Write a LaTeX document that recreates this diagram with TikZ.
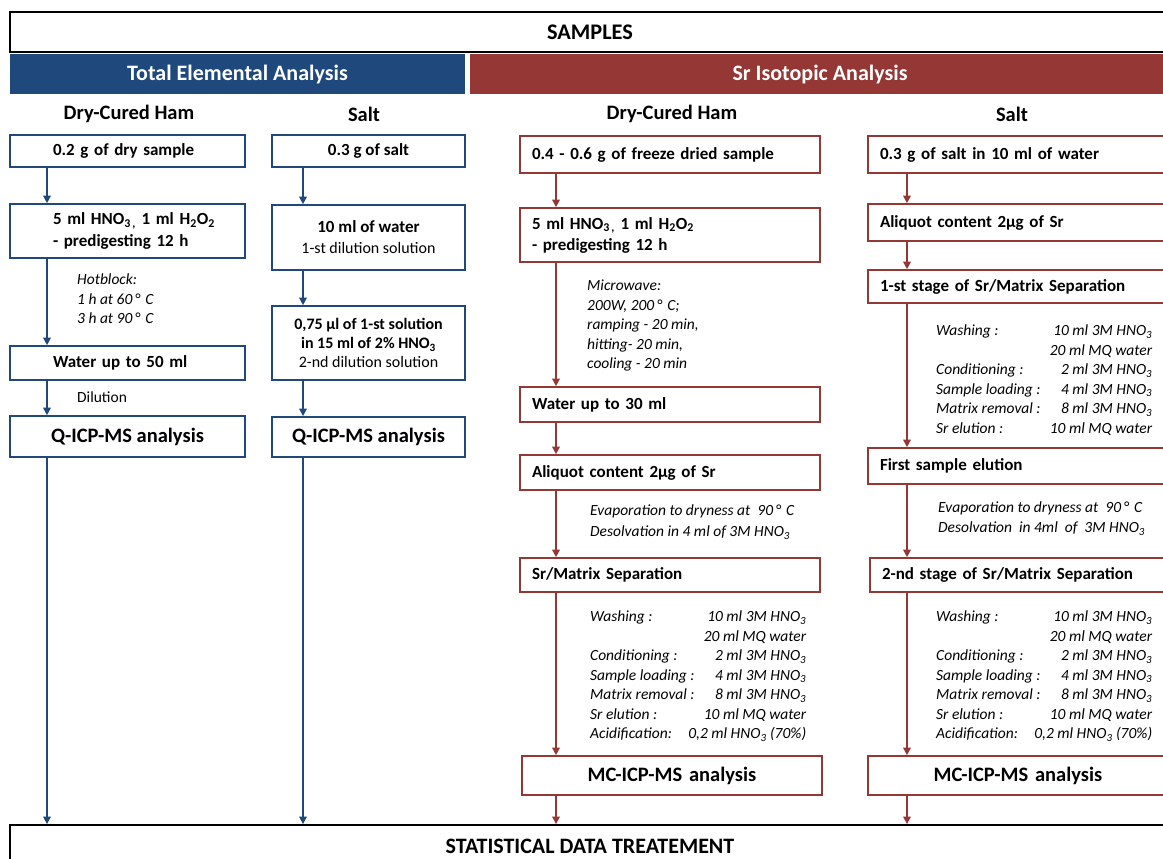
\documentclass[tikz,border=0pt]{standalone}
\usepackage{fontspec}
\setmainfont{Carlito}
\usetikzlibrary{arrows.meta}
\definecolor{tblue}{RGB}{31,73,125}
\definecolor{tred}{RGB}{149,55,53}
\newcommand{\seprows}{Washing : & 10 ml 3M HNO\textsubscript{3}\\
 & 20 ml MQ water\\
Conditioning : & 2 ml 3M HNO\textsubscript{3}\\
Sample loading : & 4 ml 3M HNO\textsubscript{3}\\
Matrix removal : & 8 ml 3M HNO\textsubscript{3}\\
Sr elution : & 10 ml MQ water}
\newcommand{\acidrow}{Acidification: & \makebox[100pt][r]{0,2 ml HNO\textsubscript{3} (70\%)}}
\begin{document}
\begin{tikzpicture}[x=1pt,y=-1pt,
    bbox/.style={draw=tblue,line width=1.6pt,inner sep=0pt,align=center,font=\bfseries\fontsize{17}{21}\selectfont},
    rbox/.style={draw=tred,line width=1.6pt,inner sep=0pt,inner xsep=12pt,text width=276pt,align=left,font=\bfseries\fontsize{17}{21}\selectfont},
    note/.style={inner sep=0pt,anchor=north west,align=left,font=\itshape\fontsize{15.5}{19.5}\selectfont},
    hdr/.style={font=\bfseries\fontsize{20.5}{24}\selectfont},
    bar/.style={text=white,minimum height=40,text height=16pt,text depth=2pt,font=\bfseries\fontsize{22}{26}\selectfont},
    big/.style={font=\bfseries\fontsize{20.5}{24}\selectfont},
    barr/.style={tblue,line width=1.6pt,-{Triangle[length=7.5pt,width=7.5pt]}},
    rarr/.style={tred,line width=1.6pt,-{Triangle[length=7.5pt,width=7.5pt]}}]
    \useasboundingbox(0,0)rectangle(1163,859);
    \node[draw,line width=1.8pt,minimum width=1160,minimum height=40,font=\bfseries\fontsize{22.3}{26}\selectfont](smp)at(590,32){SAMPLES};
    \node[bar,fill=tblue,minimum width=455](tea)at(237.5,74){Total Elemental Analysis};
    \node[bar,fill=tred,minimum width=700](sia)at(820,74){Sr Isotopic Analysis};
    \node[hdr](hd1)at(129,114){Dry-Cured Ham};
    \node[hdr](hd2)at(364,114){Salt};
    \node[hdr](hd3)at(672,114){Dry-Cured Ham};
    \node[hdr](hd4)at(1012,114){Salt};
    \coordinate(c1)at(47,0);
    \coordinate(c2)at(303,0);
    \coordinate(c3)at(556,0);
    \coordinate(c4)at(907,0);
    % total elemental analysis, ham
    \node[bbox,text width=149pt,inner xsep=43pt,align=left,minimum height=32](h1)at(127.5,151){0.2 g of dry sample};
    \node[bbox,text width=149pt,inner xsep=43pt,align=left,minimum height=54,font=\bfseries\fontsize{17}{22}\selectfont](h2)at(127.5,231){\mbox{5 ml HNO\textsubscript{3\,,} 1 ml H\textsubscript{2}O\textsubscript{2}}\\- predigesting 12 h};
    \node[note](n1)at(77,274){Hotblock:\\1 h at 60\,°\,\,C\\3 h at 90\,°\,\,C};
    \node[bbox,text width=149pt,inner xsep=43pt,align=left,minimum height=34](h3)at(127.5,363){Water up to 50 ml};
    \node[anchor=west,inner sep=0pt,font=\fontsize{15.5}{19}\selectfont](n2)at(77,397){Dilution};
    \node[bbox,big,minimum width=235,minimum height=41](h4)at(127.5,436.5){Q-ICP-MS analysis};
    % total elemental analysis, salt
    \node[bbox,minimum width=193,minimum height=32](s1)at(368.5,151){0.3 g of salt};
    \node[bbox,minimum width=193,minimum height=65](s2)at(368.5,237.5){10 ml of water\\\mdseries\fontsize{16}{20}\selectfont 1-st dilution solution};
    \node[bbox,minimum width=193,minimum height=74,font=\bfseries\fontsize{16}{19}\selectfont](s3)at(368.5,343){0,75 µl of 1-st solution\\in 15 ml of 2\% HNO\textsubscript{3}\\\mdseries 2-nd dilution solution};
    \node[bbox,big,minimum width=193,minimum height=40](s4)at(368.5,437){Q-ICP-MS analysis};
    % sr isotopic analysis, ham
    \node[rbox,minimum height=37](r1)at(670,154.5){0.4 - 0.6 g of freeze dried sample};
    \node[rbox,minimum height=54](r2)at(670,235){5 ml HNO\textsubscript{3\,,} 1 ml H\textsubscript{2}O\textsubscript{2}\\- predigesting 12 h};
    \node[note](n3)at(587,280){Microwave:\\200W, 200\,°\,\,C;\\ramping - 20 min,\\hitting- 20 min,\\cooling - 20 min};
    \node[rbox,minimum height=35](r3)at(670,404.5){Water up to 30 ml};
    \node[rbox,minimum height=35](r4)at(670,472.5){Aliquot content 2µg of Sr};
    \node[note,font=\itshape\fontsize{15.5}{21}\selectfont](n4)at(590,505){Evaporation to dryness at~ 90\,°\,\,C\\Desolvation in 4 ml of 3M HNO\textsubscript{3}};
    \node[rbox,minimum height=34](r5)at(670,575){Sr/Matrix Separation};
    \node[note](n5)at(590,608){\begin{tabular*}{216pt}{@{}l@{\extracolsep{\fill}}r@{}}\seprows\\\acidrow\end{tabular*}};
    \node[rbox,big,align=center,minimum height=39](r6)at(672,775.5){MC-ICP-MS analysis};
    % sr isotopic analysis, salt
    \node[rbox,minimum height=37](t1)at(1018,154.5){0.3 g of salt in 10 ml of water};
    \node[rbox,minimum height=37](t2)at(1018,222.5){Aliquot content 2µg of Sr};
    \node[rbox,minimum height=33](t3)at(1018,286.5){1-st stage of Sr/Matrix Separation};
    \node[note](n6)at(936,322){\begin{tabular*}{216pt}{@{}l@{\extracolsep{\fill}}r@{}}\seprows\end{tabular*}};
    \node[rbox,minimum height=36](t4)at(1018,466){First sample elution};
    \node[note,font=\itshape\fontsize{15.5}{20}\selectfont](n7)at(938,502){Evaporation to dryness at~ 90\,°\,\,C\\Desolvation~ in 4ml~ of~ 3M HNO\textsubscript{3}};
    \node[rbox,minimum height=34](t5)at(1020,575){2-nd stage of Sr/Matrix Separation};
    \node[note](n8)at(936,608){\begin{tabular*}{216pt}{@{}l@{\extracolsep{\fill}}r@{}}\seprows\\\acidrow\end{tabular*}};
    \node[rbox,big,align=center,minimum height=39](t6)at(1018,775.5){MC-ICP-MS analysis};
    \node[draw,line width=1.8pt,minimum width=1160,minimum height=42,font=\bfseries\fontsize{22}{26}\selectfont](st)at(590,846){STATISTICAL DATA TREATEMENT};
    % arrows
    \draw[barr](h1.south-|c1)--(h2.north-|c1);
    \draw[barr](h2.south-|c1)--(h3.north-|c1);
    \draw[barr](h3.south-|c1)--(h4.north-|c1);
    \draw[barr](h4.south-|c1)--(st.north-|c1);
    \draw[barr](s1.south-|c2)--(s2.north-|c2);
    \draw[barr](s2.south-|c2)--(s3.north-|c2);
    \draw[barr](s3.south-|c2)--(s4.north-|c2);
    \draw[barr](s4.south-|c2)--(st.north-|c2);
    \draw[rarr](r1.south-|c3)--(r2.north-|c3);
    \draw[rarr](r2.south-|c3)--(r3.north-|c3);
    \draw[rarr](r3.south-|c3)--(r4.north-|c3);
    \draw[rarr](r4.south-|c3)--(r5.north-|c3);
    \draw[rarr](r5.south-|c3)--(r6.north-|c3);
    \draw[rarr](r6.south-|c3)--(st.north-|c3);
    \draw[rarr](t1.south-|c4)--(t2.north-|c4);
    \draw[rarr](t2.south-|c4)--(t3.north-|c4);
    \draw[rarr](t3.south-|c4)--(t4.north-|c4);
    \draw[rarr](t4.south-|c4)--(t5.north-|c4);
    \draw[rarr](t5.south-|c4)--(t6.north-|c4);
    \draw[rarr](t6.south-|c4)--(st.north-|c4);
\end{tikzpicture}
\end{document}
